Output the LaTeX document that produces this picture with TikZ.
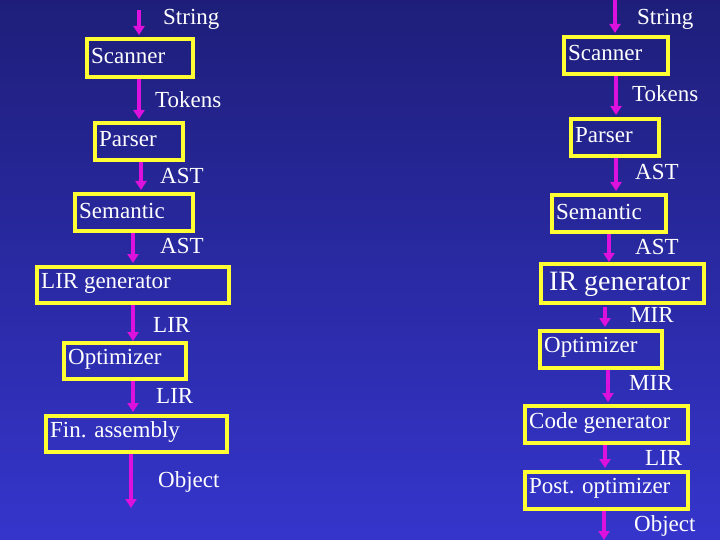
\documentclass[tikz,border=0pt]{standalone}
\usepackage{fontspec}
\setmainfont{Liberation Serif}
\usetikzlibrary{arrows.meta}
\definecolor{bgtop}{HTML}{1E1E7A}
\definecolor{bgbot}{HTML}{3535CC}
\definecolor{ylw}{HTML}{FFFF33}
\definecolor{mag}{HTML}{DD11DD}
\begin{document}
\begin{tikzpicture}[x=1pt,y=-1pt,
  box/.style={draw=ylw,line width=4pt,rectangle,anchor=north west,inner sep=0pt,text=white,font=\fontsize{23}{26}\selectfont},
  lbl/.style={anchor=west,text=white,inner sep=0pt,font=\fontsize{23}{26}\selectfont},
  flow/.style={draw=mag,line width=4pt,-{Triangle[width=11pt,length=9pt]}}]
\useasboundingbox (0,0) rectangle (720,540);
\shade[top color=bgtop,bottom color=bgbot] (0,0) rectangle (720,540);
\newcommand{\bx}[6]{% name, x1,y1,x2,y2,text
  \node[box,minimum width={#4-#2-4},minimum height={#5-#3-4}] (#1) at (#2+2,#3+2) {};
  \node[lbl] (#1t) at (#2+8,{(#3+#5)/2}) {#6};}
% left column
\bx{s}{83}{35}{193}{77}{Scanner}
\bx{p}{91}{119}{183}{160}{Parser}
\bx{se}{71}{190}{193}{231}{Semantic}
\bx{g}{33}{263}{229}{303}{LIR generator}
\bx{o}{60}{339}{186}{379}{Optimizer}
\bx{f}{42}{412}{227}{452}{Fin. assembly}
\coordinate (a0) at (139,10);
\coordinate (ae) at (131,508);
\draw[flow] (a0) -- (139,35);
\draw[flow] (139,79) -- (139,119);
\draw[flow] (141,162) -- (141,190);
\draw[flow] (133,233) -- (133,263);
\draw[flow] (133,305) -- (133,341);
\draw[flow] (133,381) -- (133,412);
\draw[flow] (131,454) -- (ae);
\node[lbl] (l1) at (163,19) {String};
\node[lbl] (l2) at (155,100) {Tokens};
\node[lbl] (l3) at (160,176) {AST};
\node[lbl] (l4) at (160,246) {AST};
\node[lbl] (l5) at (153,325) {LIR};
\node[lbl] (l6) at (156,396) {LIR};
\node[lbl] (l7) at (158,482) {Object};
% right column
\bx{S}{560}{33}{668}{74}{Scanner}
\bx{P}{567}{115}{659}{156}{Parser}
\bx{SE}{548}{191}{666}{232}{Semantic}
\node[box,minimum width=163,minimum height=39] (G) at (539,262) {};
\node[lbl,font=\fontsize{28}{30}\selectfont] (Gt) at (549,284) {IR generator};
\bx{O}{536}{327}{662}{368}{Optimizer}
\bx{C}{521}{402}{688}{443}{Code generator}
\bx{PO}{521}{468}{688}{509}{Post. optimizer}
\coordinate (b0) at (615,0);
\coordinate (be) at (604,540);
\draw[flow] (b0) -- (615,33);
\draw[flow] (616,76) -- (616,115);
\draw[flow] (616,158) -- (616,191);
\draw[flow] (609,234) -- (609,262);
\draw[flow] (605,307) -- (605,327);
\draw[flow] (608,370) -- (608,402);
\draw[flow] (605,445) -- (605,468);
\draw[flow] (604,511) -- (be);
\node[lbl] (r1) at (637,19) {String};
\node[lbl] (r2) at (632,94) {Tokens};
\node[lbl] (r3) at (635,172) {AST};
\node[lbl] (r4) at (635,247) {AST};
\node[lbl] (r5) at (630,315) {MIR};
\node[lbl] (r6) at (629,383) {MIR};
\node[lbl] (r7) at (645,458) {LIR};
\node[lbl] (r8) at (634,526) {Object};
\end{tikzpicture}
\end{document}
